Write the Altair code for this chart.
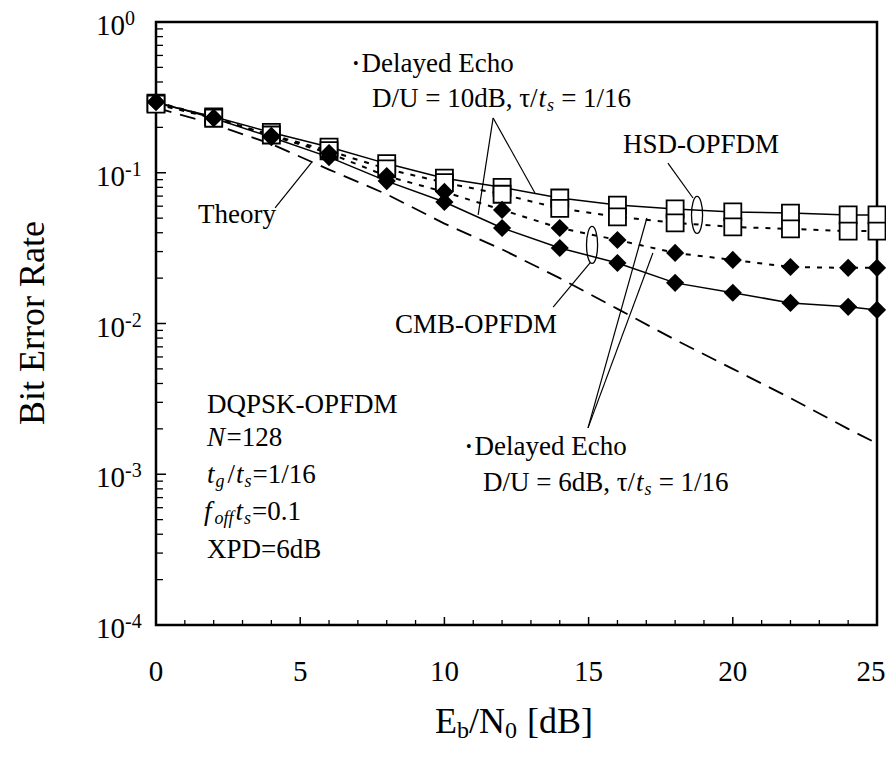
import math
import altair as alt
import pandas as pd

# ---------------- data ----------------
ebn0 = [0, 2, 4, 6, 8, 10, 12, 14, 16, 18, 20, 22, 24, 25]
hsd_solid = [0.29, 0.235, 0.185, 0.148, 0.115, 0.092, 0.080, 0.068, 0.061, 0.0575, 0.055, 0.054, 0.0525, 0.0525]
hsd_dotted = [0.285, 0.230, 0.178, 0.140, 0.106, 0.086, 0.072, 0.058, 0.051, 0.0465, 0.0437, 0.0424, 0.041, 0.041]
cmb_dotted = [0.295, 0.232, 0.176, 0.135, 0.095, 0.0746, 0.0567, 0.043, 0.0358, 0.0294, 0.0264, 0.0237, 0.0234, 0.0234]
cmb_solid = [0.295, 0.230, 0.172, 0.127, 0.088, 0.064, 0.043, 0.0317, 0.0252, 0.0186, 0.016, 0.0137, 0.0129, 0.0123]
theory = [0.27, 0.21, 0.155, 0.105, 0.072, 0.046, 0.031, 0.020, 0.0125, 0.0078, 0.0050, 0.0032, 0.0020, 0.0016]

x_tick_labels = ["0", "5", "10", "15", "20", "25"]
x_tick_label_values = [0, 5, 10, 15, 20, 25]
y_decades = [1.0, 0.1, 0.01, 0.001, 0.0001]
y_decade_exps = ["0", "-1", "-2", "-3", "-4"]

# leader lines (data coordinates: dB, BER)
lead_x1 = [4.13, 11.69, 11.69, 14.98, 14.98, 13.77, 17.75]
lead_y1 = [0.0584, 0.231, 0.231, 0.00203, 0.00203, 0.01286, 0.116]
lead_x2 = [5.41, 11.17, 13.14, 17.02, 17.23, 15.05, 18.62]
lead_y2 = [0.118, 0.0525, 0.0734, 0.0501, 0.0294, 0.0252, 0.068]
ellipse_x = [15.12, 18.76]
ellipse_y = [0.0332, 0.0525]

# ---------------- layout helpers ----------------
W, H = 721, 603
FONT = "Liberation Serif"

xs = alt.Scale(domain=[0, 25], nice=False, zero=False)
ys = alt.Scale(type="log", domain=[1e-4, 1], nice=False)


def to_data(px, py):
    return px / W * 25.0, 10 ** (-4.0 * py / H)


CW = {' ': .25, ',': .25, '-': .333, '.': .25, '/': .278, '=': .564, '[': .333, ']': .333,
      'A': .722, 'B': .667, 'C': .667, 'D': .722, 'E': .611, 'F': .556, 'H': .722, 'K': .722,
      'M': .889, 'N': .722, 'O': .722, 'P': .556, 'Q': .722, 'S': .556, 'T': .611, 'U': .722,
      'X': .722, 'a': .444, 'b': .5, 'c': .444, 'd': .5, 'e': .444, 'f': .278, 'g': .5, 'h': .5,
      'l': .278, 'o': .5, 'r': .333, 's': .389, 't': .278, 'y': .5, '\u03c4': .44, '\u2022': .35}


def text_w(s, size):
    return sum(CW.get(c, 0.5) for c in s) * size


rows = []


def layout(x0, y0, pieces, center=False):
    total = sum(text_w(t, sz) + g for t, it, sz, dy, g in pieces)
    cur = x0 - total / 2 if center else x0
    for t, it, sz, dy, g in pieces:
        dx_, dy_ = to_data(cur, y0 + dy)
        rows.append({"x": dx_, "y": dy_, "text": t, "italic": it, "size": sz})
        cur += text_w(t, sz) + g


A = 27
SUB = 18
SP = 7  # width of a space at size A
# top "Delayed Echo" label
layout(197, 42, [("\u2022", False, 16, 0, 3), ("Delayed Echo", False, A, 0, 0)])
layout(216, 77, [("D/U = 10dB, \u03c4/", False, A, 0, 0), ("t", True, A, 0, 1),
                 ("s", True, SUB, 7, SP), ("= 1/16", False, A, 0, 0)])
# lower "Delayed Echo" label
layout(310, 425, [("\u2022", False, 16, 0, 3), ("Delayed Echo", False, A, 0, 0)])
layout(327, 461, [("D/U = 6dB, \u03c4/", False, A, 0, 0), ("t", True, A, 0, 1),
                  ("s", True, SUB, 7, SP), ("= 1/16", False, A, 0, 0)])
layout(467, 123, [("HSD-OPFDM", False, A, 0, 0)])
layout(239, 303, [("CMB-OPFDM", False, A, 0, 0)])
layout(42, 193, [("Theory", False, A, 0, 0)])
# parameter block
layout(51, 383, [("DQPSK-OPFDM", False, A, 0, 0)])
layout(51, 416, [("N", True, A, 0, 0), ("=128", False, A, 0, 0)])
layout(51, 453, [("t", True, A, 0, 1), ("g", True, SUB, 7, 3), ("/", False, A, 0, 1),
                 ("t", True, A, 0, 1), ("s", True, SUB, 7, 1), ("=1/16", False, A, 0, 0)])
layout(48, 490, [("f", True, A, 0, 3), ("off", True, SUB, 7, 2), ("t", True, A, 0, 1),
                 ("s", True, SUB, 7, 1), ("=0.1", False, A, 0, 0)])
layout(51, 528, [("XPD=6dB", False, A, 0, 0)])
# x axis title  E_b/N_0 [dB]
layout(358, 700, [("E", False, 36, 0, 0), ("b", False, 24, 9, 0), ("/N", False, 36, 0, 0),
                  ("0", False, 24, 9, 10), ("[dB]", False, 36, 0, 0)], center=True)

# y tick label exponents (superscripts)
for v, e in zip(y_decades, y_decade_exps):
    ypx = -math.log10(v) / 4 * H
    sx, sy = to_data(-31, ypx - 3)
    rows.append({"x": sx, "y": sy, "text": e, "italic": False, "size": 20})

text_df = pd.DataFrame(rows)


# ---------------- chart pieces ----------------
def series_df(vals):
    return pd.DataFrame({"x": ebn0, "y": vals})


def enc(c):
    return c.encode(x=alt.X("x:Q", scale=xs, axis=None), y=alt.Y("y:Q", scale=ys, axis=None))


def line(vals, dash=None, width=1.5):
    kw = dict(color="black", strokeWidth=width)
    if dash:
        kw["strokeDash"] = dash
    return enc(alt.Chart(series_df(vals)).mark_line(**kw))


def points(vals, shape, filled, size):
    if filled:
        m = alt.Chart(series_df(vals)).mark_point(shape=shape, filled=True, color="black",
                                                  size=size, opacity=1)
    else:
        m = alt.Chart(series_df(vals)).mark_point(shape=shape, filled=True, fill="white",
                                                  stroke="black", strokeWidth=1.8,
                                                  size=size, opacity=1)
    return enc(m)


DOT = [5, 7]
layers = [
    line(theory, dash=[16, 9], width=1.8),
    line(hsd_solid),
    line(hsd_dotted, dash=DOT, width=2),
    line(cmb_dotted, dash=DOT, width=2),
    line(cmb_solid),
]

# leader lines and loops
lead_df = pd.DataFrame({"x1": lead_x1, "y1": lead_y1, "x2": lead_x2, "y2": lead_y2})
layers.append(alt.Chart(lead_df).mark_rule(color="black", strokeWidth=1.2).encode(
    x=alt.X("x1:Q", scale=xs, axis=None), y=alt.Y("y1:Q", scale=ys, axis=None),
    x2="x2:Q", y2="y2:Q"))
ell_df = pd.DataFrame({"x": ellipse_x, "y": ellipse_y})
layers.append(enc(alt.Chart(ell_df).mark_point(
    shape="M0,-1 A0.3,1 0 1,1 0,1 A0.3,1 0 1,1 0,-1 Z", filled=False, color="black",
    strokeWidth=1.3, size=1369, opacity=1)))

layers += [
    points(hsd_solid, "square", False, 290),
    points(hsd_dotted, "square", False, 290),
    points(cmb_dotted, "diamond", True, 330),
    points(cmb_solid, "diamond", True, 330),
]

# inward ticks
ymaj = pd.DataFrame({"v": y_decades})
ymin = pd.DataFrame({"v": [m * 10.0 ** k for k in range(-4, 0) for m in range(2, 10)]})
layers.append(alt.Chart(ymaj).mark_rule(color="black", strokeWidth=1.5).encode(
    x=alt.value(0), x2=alt.value(10), y=alt.Y("v:Q", scale=ys, axis=None)))
layers.append(alt.Chart(ymin).mark_rule(color="black", strokeWidth=1.3).encode(
    x=alt.value(0), x2=alt.value(7), y=alt.Y("v:Q", scale=ys, axis=None)))
xmaj = pd.DataFrame({"v": [5, 10, 15, 20]})
xmin = pd.DataFrame({"v": [i for i in range(1, 25) if i % 5]})
layers.append(alt.Chart(xmaj).mark_rule(color="black", strokeWidth=1.5).encode(
    y=alt.value(H), y2=alt.value(H - 8), x=alt.X("v:Q", scale=xs, axis=None)))
layers.append(alt.Chart(xmin).mark_rule(color="black", strokeWidth=1.3).encode(
    y=alt.value(H), y2=alt.value(H - 5), x=alt.X("v:Q", scale=xs, axis=None)))

# x tick labels (last one nudged left so that it stays on the page)
xl_rows = []
for v, t in zip(x_tick_label_values, x_tick_labels):
    _, yy = to_data(0, 650)
    xx = v - (6 / W * 25 if v == 25 else 0)
    xl_rows.append({"x": xx, "y": yy, "text": t})
layers.append(enc(alt.Chart(pd.DataFrame(xl_rows)).mark_text(
    font=FONT, fontSize=29, align="center", baseline="middle", color="black")).encode(text="text:N"))

# y tick labels "10"
yl_rows = []
for v in y_decades:
    ypx = -math.log10(v) / 4 * H
    xx, yy = to_data(-31, ypx + 4)
    yl_rows.append({"x": xx, "y": yy, "text": "10"})
layers.append(enc(alt.Chart(pd.DataFrame(yl_rows)).mark_text(
    font=FONT, fontSize=29, align="right", baseline="middle", color="black")).encode(text="text:N"))

# y title
tx, ty = to_data(-123, 301)
layers.append(enc(alt.Chart(pd.DataFrame({"x": [tx], "y": [ty], "text": ["Bit Error Rate"]})).mark_text(
    font=FONT, fontSize=36, align="center", baseline="middle", angle=270, color="black")).encode(
    text="text:N"))

# annotation text pieces, grouped by style/size
for (it, sz), g in text_df.groupby(["italic", "size"]):
    layers.append(enc(alt.Chart(g[["x", "y", "text"]].reset_index(drop=True)).mark_text(
        font=FONT, fontSize=int(sz), fontStyle="italic" if it else "normal",
        align="left", baseline="middle", color="black")).encode(text="text:N"))

chart = alt.layer(*layers).properties(
    width=W, height=H,
    autosize=alt.AutoSizeParams(type="none"),
    padding={"left": 148, "top": 14, "right": 9, "bottom": 118},
    background="white",
).configure_view(stroke="black", strokeWidth=2.5)

chart.save("out.html", embed_options={"renderer": "svg", "actions": False})
